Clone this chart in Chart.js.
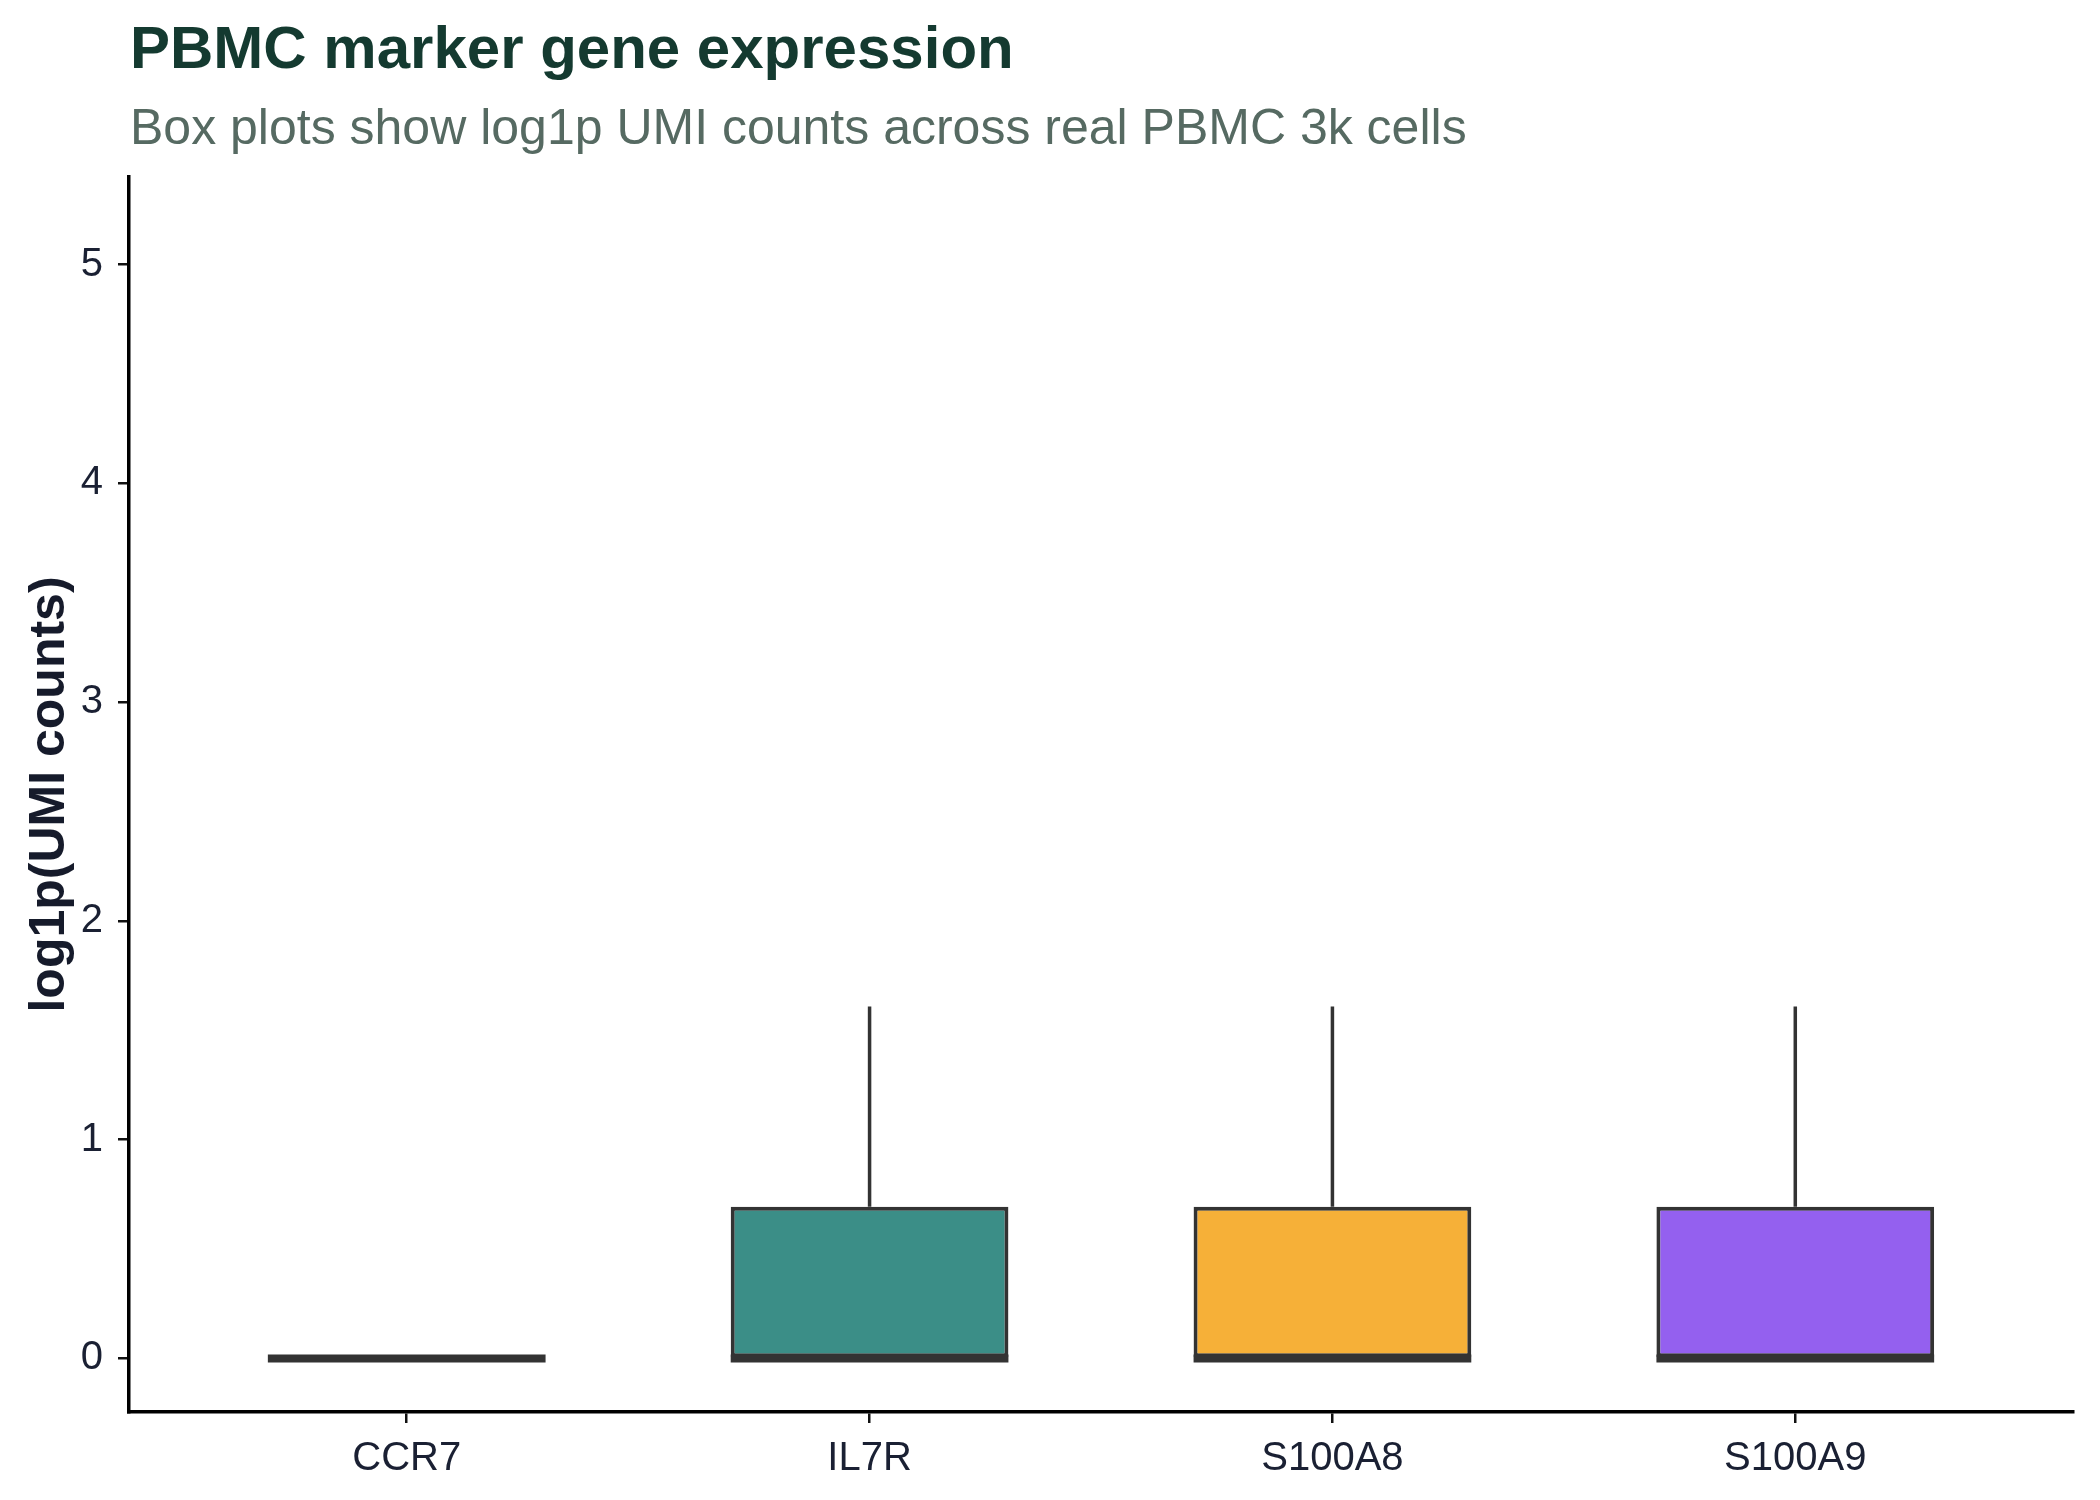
<!DOCTYPE html>
<html>
<head>
<meta charset="utf-8">
<script src="https://cdn.jsdelivr.net/npm/chart.js@4.4.1/dist/chart.umd.min.js"></script>
<style>
    body { margin: 0; background: #ffffff; }
    #wrap { width: 2100px; height: 1500px; }
</style>
</head>
<body>
<div id="wrap">
    <canvas id="box-chart" width="2100" height="1500"></canvas>
</div>
<script>
    // Box statistics (log1p UMI counts).
    var genes        = ['CCR7', 'IL7R', 'S100A8', 'S100A9'];
    var lowWhisker   = [0, 0, 0, 0];
    var q1           = [0, 0, 0, 0];
    var medians      = [0, 0, 0, 0];
    var q3           = [0, 0.693, 0.693, 0.693];
    var highWhisker  = [0, 1.609, 1.609, 1.609];
    var boxColors    = ['#ffffff', '#3b8e87', '#f6b038', '#9460ef'];
    var yTicks       = [0, 1, 2, 3, 4, 5];
    var yMin = -0.245, yMax = 5.40;

    var titleText    = 'PBMC marker gene expression';
    var subtitleText = 'Box plots show log1p UMI counts across real PBMC 3k cells';

    var FONT = "'Liberation Sans', Arial, Helvetica, sans-serif";
    var LINE = '#333333';

    // whiskers go under the boxes, medians on top
    var boxExtras = {
        id: 'boxExtras',
        beforeDatasetsDraw: function(chart) {
            var x = chart.scales.x, y = chart.scales.y, ctx = chart.ctx;
            ctx.save();
            ctx.strokeStyle = LINE;
            ctx.lineWidth = 3.5;
            for (var i = 0; i < genes.length; i++) {
                var px = x.getPixelForValue(i + 1);
                ctx.beginPath();
                ctx.moveTo(px, y.getPixelForValue(q3[i]));
                ctx.lineTo(px, y.getPixelForValue(highWhisker[i]));
                ctx.moveTo(px, y.getPixelForValue(q1[i]));
                ctx.lineTo(px, y.getPixelForValue(lowWhisker[i]));
                ctx.stroke();
            }
            ctx.restore();
        },
        afterDatasetsDraw: function(chart) {
            var x = chart.scales.x, y = chart.scales.y, ctx = chart.ctx;
            var bars = chart.getDatasetMeta(0).data;
            ctx.save();
            ctx.strokeStyle = LINE;
            ctx.lineWidth = 8;
            for (var i = 0; i < genes.length; i++) {
                var px = x.getPixelForValue(i + 1);
                var half = bars[i].width / 2;
                var py = y.getPixelForValue(medians[i]);
                ctx.beginPath();
                ctx.moveTo(px - half, py);
                ctx.lineTo(px + half, py);
                ctx.stroke();
            }
            ctx.restore();
        },
        afterDraw: function(chart) {
            var ctx = chart.ctx, left = chart.chartArea.left;
            ctx.save();
            ctx.textAlign = 'left';
            ctx.textBaseline = 'alphabetic';
            ctx.fillStyle = '#143a30';
            ctx.font = 'bold 60px ' + FONT;
            ctx.fillText(titleText, left + 1, 68);
            ctx.fillStyle = '#566a62';
            ctx.font = '50px ' + FONT;
            ctx.fillText(subtitleText, left + 1, 144);
            ctx.restore();
        }
    };

    var ctx = document.getElementById('box-chart').getContext('2d');
    var chart = new Chart(ctx, {
        type: 'bar',
        data: {
            datasets: [{
                label: 'IQR',
                data: genes.map(function(g, i) { return { x: i + 1, y: [q1[i], q3[i]] }; }),
                backgroundColor: boxColors,
                borderColor: LINE,
                borderWidth: 4,
                borderSkipped: false,
                barPercentage: 0.6,
                categoryPercentage: 1.0
            }]
        },
        plugins: [boxExtras],
        options: {
            responsive: false,
            animation: false,
            layout: { padding: { top: 177, right: 27, left: 0, bottom: 0 } },
            plugins: {
                legend: { display: false },
                tooltip: { enabled: false }
            },
            scales: {
                x: {
                    type: 'linear',
                    min: 0.4,
                    max: 4.6,
                    offset: false,
                    afterBuildTicks: function(scale) {
                        scale.ticks = genes.map(function(g, i) { return { value: i + 1 }; });
                    },
                    afterFit: function(scale) { scale.height = 88; },
                    border: { display: true, color: '#000000', width: 3.5 },
                    grid: { offset: false, drawOnChartArea: false, tickLength: 11, color: '#111111', lineWidth: 2.5 },
                    ticks: {
                        padding: 12,
                        color: '#1a2033',
                        font: { family: FONT, size: 40 },
                        maxRotation: 0,
                        autoSkip: false,
                        callback: function(v) { return genes[v - 1]; }
                    }
                },
                y: {
                    min: yMin,
                    max: yMax,
                    afterBuildTicks: function(scale) {
                        scale.ticks = yTicks.map(function(v) { return { value: v }; });
                    },
                    afterFit: function(scale) { scale.width = 129; },
                    border: { display: true, color: '#000000', width: 3.5 },
                    grid: { drawOnChartArea: false, tickLength: 11, color: '#111111', lineWidth: 2.5 },
                    ticks: {
                        padding: 15,
                        color: '#1a2033',
                        font: { family: FONT, size: 40 }
                    },
                    title: {
                        display: true,
                        text: 'log1p(UMI counts)',
                        color: '#161b2b',
                        font: { family: FONT, size: 50, weight: 'bold', lineHeight: 1.2 },
                        padding: { top: 20, bottom: 0 }
                    }
                }
            }
        }
    });
</script>
</body>
</html>
